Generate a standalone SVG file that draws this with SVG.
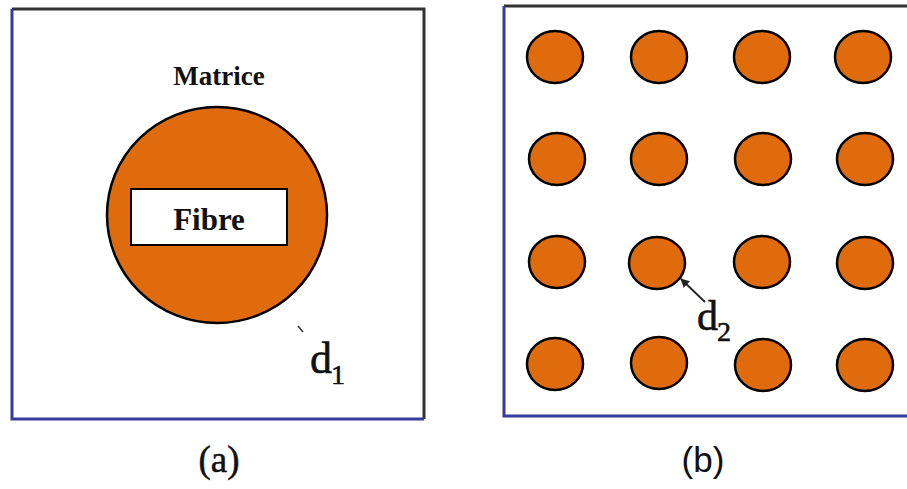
<svg xmlns="http://www.w3.org/2000/svg" width="907" height="489" viewBox="0 0 907 489">
<style>
.blue{stroke:#3a3a9c;stroke-width:3;fill:none}
.dark{stroke:#333;stroke-width:3;fill:none}
.fib{fill:#E06B0C;stroke:#000;stroke-width:2.5}
.t{font-family:"Liberation Serif",serif;fill:#111}
</style>
<defs>
<marker id="ah" viewBox="0 0 10 10" refX="9" refY="5" markerWidth="5" markerHeight="5" orient="auto">
<path d="M0,0 L10,5 L0,10 z" fill="#222"/>
</marker>
</defs>
<g id="panel-a">
<path class="dark" d="M12,9 H424 V419"/>
<path class="blue" d="M12,9 V419 H424"/>
<text class="t" x="219" y="85" font-size="27" font-weight="bold" text-anchor="middle">Matrice</text>
<ellipse class="fib" cx="217" cy="215" rx="110" ry="108"/>
<rect x="131" y="189" width="156" height="56" fill="#fff" stroke="#000" stroke-width="2"/>
<text class="t" x="209" y="230" font-size="31" font-weight="bold" text-anchor="middle">Fibre</text>
<path d="M298,326 L303,332" stroke="#333" stroke-width="1.5"/>
<text class="t" x="310" y="373" font-size="44" stroke="#111" stroke-width="0.6">d<tspan font-size="28" dy="11" dx="-1">1</tspan></text>
<text class="t" x="219" y="472" font-size="37" text-anchor="middle" stroke="#111" stroke-width="0.5">(a)</text>
</g>
<g id="panel-b">
<path class="dark" d="M504,6 H907"/>
<path class="blue" d="M504,6 V416 H907"/>
<g id="fibres">
<ellipse class="fib" cx="555" cy="57" rx="28" ry="26"/>
<ellipse class="fib" cx="659" cy="57" rx="28" ry="26"/>
<ellipse class="fib" cx="762" cy="57" rx="28" ry="26"/>
<ellipse class="fib" cx="863" cy="57" rx="28" ry="26"/>
<ellipse class="fib" cx="557" cy="159" rx="28" ry="26"/>
<ellipse class="fib" cx="659" cy="159" rx="28" ry="26"/>
<ellipse class="fib" cx="763" cy="159" rx="28" ry="26"/>
<ellipse class="fib" cx="865" cy="159" rx="28" ry="26"/>
<ellipse class="fib" cx="557" cy="262" rx="28" ry="26"/>
<ellipse class="fib" cx="657" cy="263" rx="28" ry="26"/>
<ellipse class="fib" cx="762" cy="262" rx="28" ry="26"/>
<ellipse class="fib" cx="865" cy="263" rx="28" ry="26"/>
<ellipse class="fib" cx="555" cy="364" rx="28" ry="26"/>
<ellipse class="fib" cx="659" cy="363" rx="28" ry="26"/>
<ellipse class="fib" cx="763" cy="365" rx="28" ry="26"/>
<ellipse class="fib" cx="865" cy="365" rx="28" ry="26"/>
</g>
<g id="connectors">
<line x1="705" y1="302" x2="681" y2="279" stroke="#222" stroke-width="1.8" marker-end="url(#ah)"/>
</g>
<text class="t" x="697" y="330" font-size="42" stroke="#111" stroke-width="0.6">d<tspan font-size="28" dy="11" dx="-1">2</tspan></text>
<text x="703" y="472" font-size="35" text-anchor="middle" font-family="'Liberation Sans',sans-serif" fill="#111">(b)</text>
</g>
</svg>
